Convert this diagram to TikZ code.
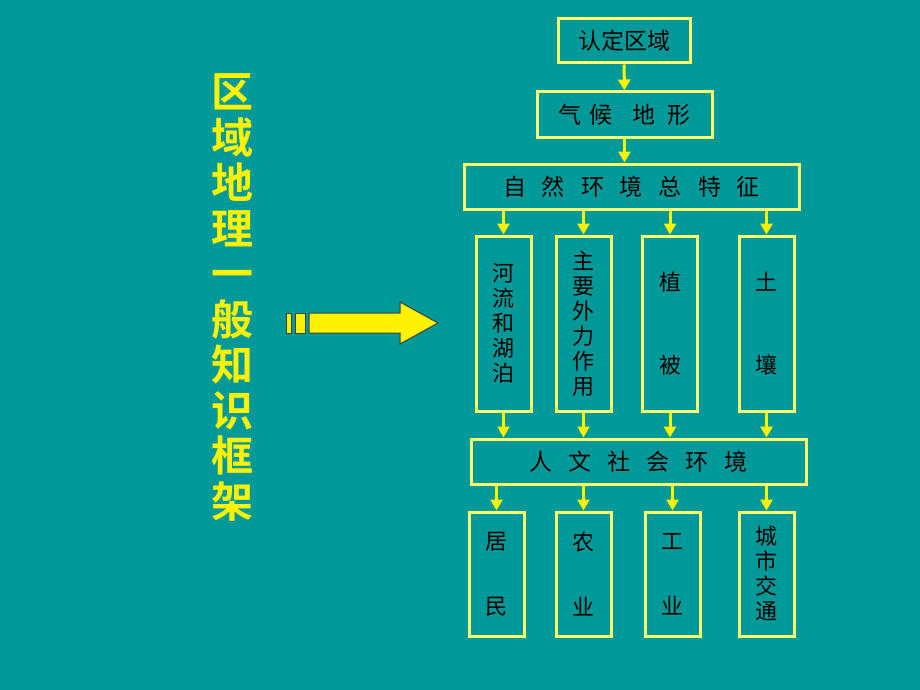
\documentclass[tikz,border=0pt]{standalone}
\usepackage{fontspec}
\setmainfont{Noto Sans CJK SC}[BoldFont={Noto Sans CJK SC Bold}]
\usepackage{tikz}
\usetikzlibrary{arrows.meta,positioning}
\definecolor{bgteal}{RGB}{0,153,153}
\definecolor{boxyellow}{RGB}{255,255,110}
\tikzset{>={Triangle[width=12pt,length=11pt]}}
\tikzset{
  hbox/.style={draw=boxyellow, line width=3pt, inner sep=0pt, minimum height=45pt,
    font=\fontsize{23}{25}\selectfont},
  vbox/.style={draw=boxyellow, line width=3pt, inner sep=0pt, minimum width=55pt,
    align=center, font=\fontsize{22}{25}\selectfont},
  flow/.style={->, yellow, line width=3pt},
  bigarrow/.style={fill=yellow, draw=black!75, line width=1pt}
}
\newcommand{\gap}{\hspace{16pt}}

\begin{document}
\begin{tikzpicture}[x=1pt,y=-1pt]
            \fill[bgteal] (0,0) rectangle (920,690);
            \useasboundingbox (0,0) rectangle (920,690);

            % title
            \node[align=center, text=yellow, font=\fontsize{42}{45.5}\selectfont\bfseries] (title) at (232,297.5)
              {区\\域\\地\\理\\一\\般\\知\\识\\框\\架};

            % big arrow
            \draw[bigarrow] (286,313) rectangle (291,333);
            \draw[bigarrow] (295,313) rectangle (305.5,333);
            \draw[bigarrow] (309,313) -- (400,313) -- (400,302) -- (438,323)
              -- (400,344) -- (400,333) -- (309,333) -- cycle;

            % upper chain
            \node[hbox, minimum width=132pt, minimum height=44pt] (region) at (624,41) {认定区域};
            \node[hbox, minimum width=175pt] (clim) at (624.5,114.5) {气\hspace{8pt}候\hspace{20pt}地\hspace{12pt}形};
            \node[hbox, minimum width=335pt] (nat) at (631.5,186.5)
              {自\gap 然\gap 环\gap 境\gap 总\gap 特\gap 征};

            % natural elements
            \node[vbox, minimum height=175pt] (river) at (503.5,323.5) {河\\流\\和\\湖\\泊};
            \node[vbox, minimum height=175pt] (force) at (583.5,323.5) {主\\要\\外\\力\\作\\用};
            \node[vbox, minimum height=175pt] (veg) at (670,323.5) {植\\[58pt]被};
            \node[vbox, minimum height=175pt] (soil) at (766.5,323.5) {土\\[58pt]壤};

            \node[hbox, minimum width=335pt] (human) at (638.5,461.5)
              {人\gap 文\gap 社\gap 会\gap 环\gap 境};

            % human elements
            \node[vbox, minimum height=124pt] (folk) at (496.5,574) {居\\[40pt]民};
            \node[vbox, minimum height=124pt] (farm) at (583.5,574) {农\\[40pt]业};
            \node[vbox, minimum height=124pt] (ind) at (672.5,574) {工\\[40pt]业};
            \node[vbox, minimum height=124pt] (city) at (766.5,574) {城\\市\\交\\通};

            % connectors
            \draw[flow] (region) -- (clim);
            \draw[flow] (clim) -- (clim.south |- nat.north);
            \foreach \n in {river,force,veg,soil}
            {
            \draw[flow] (nat.south -| \n.north) -- (\n.north);
            \draw[flow] (\n.south) -- (\n.south |- human.north);
            }
            \foreach \n in {folk,farm,ind,city}
            \draw[flow] (human.south -| \n.north) -- (\n.north);
        \end{tikzpicture}
\end{document}
